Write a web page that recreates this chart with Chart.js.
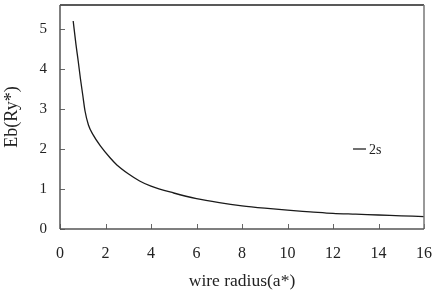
<!DOCTYPE html>
<html>
<head>
<meta charset="utf-8">
<script src="https://cdn.jsdelivr.net/npm/chart.js@4/dist/chart.umd.min.js"></script>
<style>
html,body{margin:0;padding:0;background:#fff;}
#wrap{width:436px;height:296px;position:relative;}
</style>
</head>
<body>
<div id="wrap"><canvas id="c" width="436" height="296"></canvas></div>
<script>
// ---- data ----
const wireRadius = [0.58, 0.7, 0.8, 0.9, 1.0, 1.1, 1.25, 1.45, 1.8, 2.2, 2.5, 3.0, 3.5, 4.0, 5.0, 6.0, 7.0, 8.0, 9.0, 10.0, 11.0, 12.0, 13.0, 14.0, 15.0, 16.0];
const eb2s       = [5.2, 4.62, 4.2, 3.75, 3.35, 2.95, 2.6, 2.36, 2.06, 1.78, 1.6, 1.38, 1.2, 1.07, 0.9, 0.76, 0.66, 0.58, 0.52, 0.47, 0.43, 0.39, 0.37, 0.35, 0.33, 0.31];
const seriesLabel = "2s";
const xTicks = [0, 2, 4, 6, 8, 10, 12, 14, 16];
const yTicks = [0, 1, 2, 3, 4, 5];
const xTitle = "wire radius(a*)";
const yTitle = "Eb(Ry*)";

const serif = "'Liberation Serif', 'DejaVu Serif', serif";

const frameAndTicks = {
  id: 'frameAndTicks',
  afterDraw(chart) {
    const {ctx, chartArea: a, scales} = chart;
    ctx.save();
    // inward tick marks
    ctx.strokeStyle = '#666';
    ctx.lineWidth = 1;
    xTicks.forEach(v => {
      const px = Math.round(scales.x.getPixelForValue(v)) + 0.5;
      ctx.beginPath(); ctx.moveTo(px, a.bottom); ctx.lineTo(px, a.bottom - 5); ctx.stroke();
    });
    yTicks.forEach(v => {
      const py = Math.round(scales.y.getPixelForValue(v)) + 0.5;
      ctx.beginPath(); ctx.moveTo(a.left, py); ctx.lineTo(a.left + 5, py); ctx.stroke();
    });
    // frame
    ctx.lineWidth = 1.5;
    ctx.strokeStyle = '#222';
    ctx.beginPath(); ctx.moveTo(a.left, a.top); ctx.lineTo(a.right, a.top); ctx.stroke();
    ctx.strokeStyle = '#777';
    ctx.beginPath(); ctx.moveTo(a.right, a.top); ctx.lineTo(a.right, a.bottom); ctx.stroke();
    ctx.strokeStyle = '#555';
    ctx.beginPath(); ctx.moveTo(a.left, a.top); ctx.lineTo(a.left, a.bottom); ctx.stroke();
    ctx.beginPath(); ctx.moveTo(a.left, a.bottom); ctx.lineTo(a.right, a.bottom); ctx.stroke();
    // legend
    const lx = a.left + (a.right - a.left) * 0.805;
    const ly = scales.y.getPixelForValue(2.0);
    ctx.strokeStyle = '#222';
    ctx.lineWidth = 1.3;
    ctx.beginPath(); ctx.moveTo(lx, ly); ctx.lineTo(lx + 13, ly); ctx.stroke();
    ctx.fillStyle = '#222';
    ctx.font = "14px " + serif;
    ctx.textBaseline = 'middle';
    ctx.textAlign = 'left';
    ctx.fillText(chart.data.datasets[0].label, lx + 16, ly + 1);
    ctx.restore();
  }
};

function noPad(s) { s.paddingLeft = 0; s.paddingRight = 0; s.paddingTop = 0; s.paddingBottom = 0; }

new Chart(document.getElementById('c'), {
  type: 'line',
  data: {
    datasets: [{
      label: seriesLabel,
      data: wireRadius.map((x, i) => ({x: x, y: eb2s[i]})),
      borderColor: '#1a1a1a',
      borderWidth: 1.3,
      pointRadius: 0,
      cubicInterpolationMode: 'monotone',
      fill: false
    }]
  },
  options: {
    responsive: false,
    animation: false,
    layout: {padding: {left: 0, right: 12, top: 5, bottom: 0}},
    plugins: {legend: {display: false}, tooltip: {enabled: false}},
    scales: {
      x: {
        type: 'linear', min: 0, max: 16,
        afterBuildTicks: s => { s.ticks = xTicks.map(v => ({value: v})); },
        afterFit: s => { s.height = 67; noPad(s); },
        grid: {display: false, drawTicks: false},
        border: {display: false},
        ticks: {color: '#222', font: {family: serif, size: 16}, padding: 15, maxRotation: 0, autoSkip: false},
        title: {display: true, text: xTitle, color: '#222', font: {family: serif, size: 17.5}, padding: {top: 0, bottom: 4}}
      },
      y: {
        type: 'linear', min: 0, max: 5.6,
        afterBuildTicks: s => { s.ticks = yTicks.map(v => ({value: v})); },
        afterFit: s => { s.width = 60; noPad(s); },
        grid: {display: false, drawTicks: false},
        border: {display: false},
        ticks: {color: '#222', font: {family: serif, size: 15}, padding: 13},
        title: {display: true, text: yTitle, color: '#222', font: {family: serif, size: 18}, padding: {top: 1, bottom: 0}}
      }
    }
  },
  plugins: [frameAndTicks]
});
</script>
</body>
</html>
